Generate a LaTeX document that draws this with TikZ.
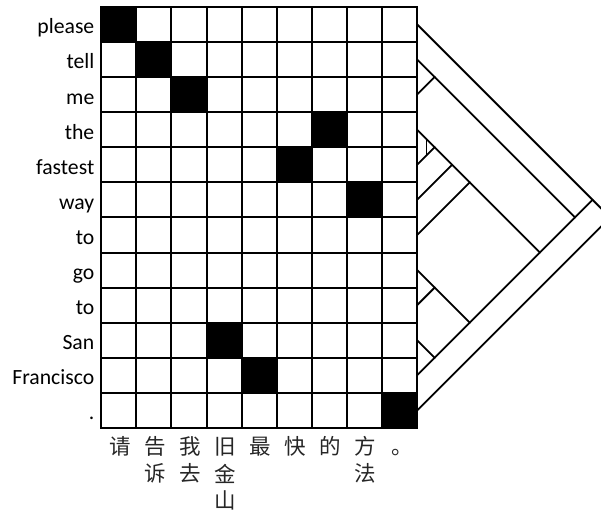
\documentclass[tikz,border=0pt]{standalone}
\usepackage{fontspec}
\setmainfont{Carlito}
\newfontfamily\cjk{Noto Sans CJK SC}
\begin{document}
\begin{tikzpicture}[x=1pt,y=-1pt,
  gridline/.style={line width=2pt,line cap=rect},
  treeline/.style={line width=1.8pt,line cap=round},
  rowlab/.style={anchor=base east,inner sep=0pt,font=\fontsize{21.7}{25}\selectfont},
  zhlab/.style={anchor=center,inner sep=0pt,text=black!85,font=\cjk\fontsize{21.5}{24}\selectfont}]
\useasboundingbox (0,0) rectangle (601,512);
\def\L{101.2}\def\T{6.8}\def\C{35.1}
\pgfmathsetmacro{\R}{\L+9*\C}
% black cells (column, row)
\foreach \c/\r in {0/0,1/1,2/2,6/3,5/4,7/5,3/9,4/10,8/11}
  \fill ({\L+\c*\C},{\T+\r*\C}) rectangle ++(\C,\C);
% grid
\foreach \i in {0,...,9}
  \draw[gridline] ({\L+\i*\C},\T) -- ({\L+\i*\C},{\T+12*\C});
\foreach \j in {0,...,12}
  \draw[gridline] (\L,{\T+\j*\C}) -- ({\L+9*\C},{\T+\j*\C});
% row labels
\foreach \w [count=\r from 0] in {please,tell,me,the,fastest,way,to,go,to,San,Francisco,.}
  \node[rowlab] (w\r) at (94.5,{\T+(\r+0.5)*\C+9.5}) {\w};
% column labels
\foreach \t/\c/\k in {请/0/0,告/1/0,诉/1/1,我/2/0,去/2/1,旧/3/0,金/3/1,山/3/2,最/4/0,快/5/0,的/6/0,方/7/0,法/7/1}
  \node[zhlab] (z\c-\k) at ({\L+(\c+0.5)*\C+1},{446.5+\k*27}) {\t};
\node[zhlab] (z8-0) at (402,453) {。};
% tree coordinates
\foreach \i in {0,...,11}
  \coordinate (l\i) at (\R,{\T+(\i+0.5)*\C});
\foreach \i/\j in {0/11,0/10,1/10,1/2,3/10,3/6,3/5,3/4,7/10,7/8,9/10}
  \coordinate (a\i-\j) at ({\R+(\j-\i)*\C/2},{\T+((\i+\j)/2+0.5)*\C});
% tree edges
\foreach \p/\q in {a0-11/a0-10,a0-11/l11,a0-10/l0,a0-10/a1-10,a1-10/a1-2,a1-10/a3-10,
  a1-2/l1,a1-2/l2,a3-10/a3-6,a3-10/a7-10,a3-6/a3-5,a3-6/l6,a3-5/a3-4,a3-5/l5,
  a3-4/l3,a3-4/l4,a7-10/a7-8,a7-10/a9-10,a7-8/l7,a7-8/l8,a9-10/l9,a9-10/l10}
  \draw[treeline] (\p) -- (\q);
% small tick inside the (3,4) bracket
\coordinate (v1) at ({\R+9},{\T+3.5*\C+9});
\coordinate (v2) at ({\R+9},{\T+4.5*\C-9});
\draw[line width=1.2pt] (v1) -- (v2);
\end{tikzpicture}
\end{document}
